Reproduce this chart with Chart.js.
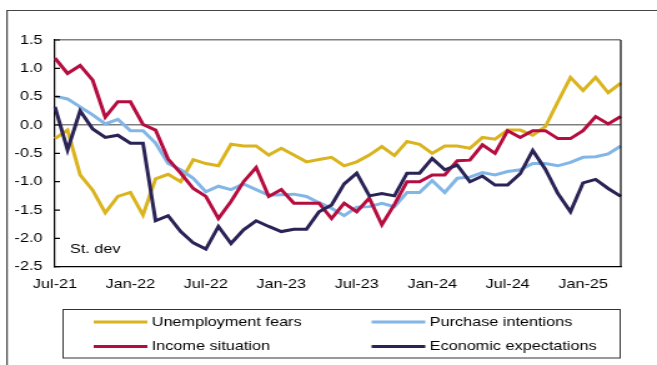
<!DOCTYPE html>
<html lang="en">

<head>
    <meta charset="utf-8" />
    <title>Consumer confidence components</title>
    <style>
        body {
            margin: 0;
            overflow: hidden;
            background: #fff;
        }

        /* the source picture is stretched sideways, so the chart is drawn narrow and scaled */
        .stretch {
            width: 526px;
            height: 365px;
            transform: scaleX(1.249);
            transform-origin: 0 0;
        }
    </style>
</head>

<body>
    <div class="stretch">
        <canvas id="mychart" width="526" height="365"></canvas>
    </div>
    <script src="https://cdn.jsdelivr.net/npm/chart.js@4.4.1/dist/chart.umd.min.js"></script>

    <script>
        // months (x axis)
        const months = [
            'Jul-21', 'Aug-21', 'Sep-21', 'Oct-21', 'Nov-21', 'Dec-21',
            'Jan-22', 'Feb-22', 'Mar-22', 'Apr-22', 'May-22', 'Jun-22',
            'Jul-22', 'Aug-22', 'Sep-22', 'Oct-22', 'Nov-22', 'Dec-22',
            'Jan-23', 'Feb-23', 'Mar-23', 'Apr-23', 'May-23', 'Jun-23',
            'Jul-23', 'Aug-23', 'Sep-23', 'Oct-23', 'Nov-23', 'Dec-23',
            'Jan-24', 'Feb-24', 'Mar-24', 'Apr-24', 'May-24', 'Jun-24',
            'Jul-24', 'Aug-24', 'Sep-24', 'Oct-24', 'Nov-24', 'Dec-24',
            'Jan-25', 'Feb-25', 'Mar-25', 'Apr-25'
        ];

        // labels shown on the x axis
        const shownLabels = ['Jul-21', 'Jan-22', 'Jul-22', 'Jan-23', 'Jul-23', 'Jan-24', 'Jul-24', 'Jan-25'];

        // series (standard deviations)
        const unemploymentFears = [
            -0.24, -0.09, -0.88, -1.15, -1.55, -1.26, -1.19, -1.59, -0.95, -0.87,
            -1.00, -0.61, -0.68, -0.72, -0.34, -0.37, -0.37, -0.53, -0.41, -0.53,
            -0.65, -0.61, -0.57, -0.72, -0.65, -0.53, -0.38, -0.54, -0.29, -0.34,
            -0.50, -0.37, -0.37, -0.41, -0.22, -0.25, -0.09, -0.09, -0.18, -0.03,
            0.41, 0.84, 0.61, 0.84, 0.57, 0.74
        ];
        const purchaseIntentions = [
            0.51, 0.46, 0.32, 0.18, 0.02, 0.10, -0.10, -0.10, -0.32, -0.68,
            -0.79, -0.94, -1.18, -1.08, -1.14, -1.04, -1.14, -1.24, -1.23, -1.22,
            -1.26, -1.37, -1.47, -1.60, -1.45, -1.44, -1.38, -1.44, -1.19, -1.19,
            -0.98, -1.19, -0.94, -0.92, -0.84, -0.88, -0.82, -0.79, -0.68, -0.68,
            -0.72, -0.66, -0.57, -0.56, -0.51, -0.37
        ];
        const incomeSituation = [
            1.18, 0.91, 1.05, 0.79, 0.14, 0.41, 0.41, 0.01, -0.09, -0.60,
            -0.85, -1.12, -1.26, -1.65, -1.35, -1.00, -0.75, -1.26, -1.14, -1.38,
            -1.38, -1.38, -1.65, -1.38, -1.53, -1.29, -1.76, -1.40, -1.00, -1.00,
            -0.88, -0.88, -0.63, -0.62, -0.35, -0.50, -0.10, -0.22, -0.10, -0.10,
            -0.24, -0.24, -0.10, 0.15, 0.02, 0.15
        ];
        const economicExpectations = [
            0.32, -0.44, 0.25, -0.07, -0.22, -0.18, -0.32, -0.32, -1.69, -1.60,
            -1.88, -2.08, -2.19, -1.79, -2.09, -1.85, -1.69, -1.79, -1.88, -1.84,
            -1.84, -1.53, -1.41, -1.04, -0.85, -1.25, -1.21, -1.25, -0.85, -0.85,
            -0.59, -0.79, -0.71, -1.00, -0.90, -1.06, -1.06, -0.86, -0.45, -0.78,
            -1.21, -1.53, -1.02, -0.96, -1.12, -1.26
        ];

        const FONT = "'Liberation Sans', Arial, sans-serif";

        // frame, right border, inner ticks, "St. dev" and the boxed legend
        const decorations = {
            id: 'decorations',
            beforeDraw(chart) {
                const ctx = chart.ctx;
                ctx.save();
                ctx.strokeStyle = '#444';
                ctx.lineWidth = 1.2;
                ctx.beginPath();
                ctx.moveTo(5.6, 365);
                ctx.lineTo(5.6, 10.5);
                ctx.lineTo(526, 10.5);
                ctx.stroke();
                ctx.restore();
            },
            afterDraw(chart) {
                const ctx = chart.ctx;
                const a = chart.chartArea;
                const y = chart.scales.y;
                ctx.save();
                ctx.strokeStyle = '#000';
                ctx.lineWidth = 1.2;
                ctx.beginPath();
                ctx.moveTo(a.right, a.top);
                ctx.lineTo(a.right, a.bottom);
                y.ticks.forEach(t => {
                    const py = y.getPixelForValue(t.value);
                    ctx.moveTo(a.left, py);
                    ctx.lineTo(a.left + 4, py);
                });
                ctx.stroke();

                ctx.fillStyle = '#000';
                ctx.font = '13px ' + FONT;
                ctx.textBaseline = 'middle';
                ctx.fillText('St. dev', a.left + 12, 249);

                // legend box
                ctx.strokeStyle = '#333';
                ctx.lineWidth = 1;
                ctx.strokeRect(50.5, 309.5, 446, 48.5);
                const cols = [75, 297.5];
                const rows = [322, 346.5];
                chart.data.datasets.forEach((ds, i) => {
                    const x = cols[i % 2];
                    const yy = rows[Math.floor(i / 2)];
                    ctx.strokeStyle = ds.borderColor;
                    ctx.lineWidth = 3;
                    ctx.beginPath();
                    ctx.moveTo(x, yy);
                    ctx.lineTo(x + 43, yy);
                    ctx.stroke();
                    ctx.fillText(ds.label, x + 46.5, yy);
                });
                ctx.restore();
            }
        };

        new Chart(document.getElementById('mychart'), {
            type: 'line',
            data: {
                labels: months,
                datasets: [{
                    label: 'Unemployment fears',
                    data: unemploymentFears,
                    borderColor: '#dab41e',
                    order: 3
                }, {
                    label: 'Purchase intentions',
                    data: purchaseIntentions,
                    borderColor: '#82b6e6',
                    order: 2
                }, {
                    label: 'Income situation',
                    data: incomeSituation,
                    borderColor: '#b50d40',
                    order: 1
                }, {
                    label: 'Economic expectations',
                    data: economicExpectations,
                    borderColor: '#2a2356',
                    order: 0
                }]
            },
            options: {
                responsive: false,
                animation: false,
                layout: {
                    padding: { top: 40, right: 29, left: 0, bottom: 0 }
                },
                elements: {
                    line: { borderWidth: 3, tension: 0, borderJoinStyle: 'miter', borderCapStyle: 'butt' },
                    point: { radius: 0 }
                },
                plugins: {
                    legend: { display: false },
                    tooltip: { enabled: false }
                },
                scales: {
                    x: {
                        offset: false,
                        grid: { display: false, drawTicks: false },
                        border: { display: true, color: '#000', width: 1.2 },
                        ticks: {
                            autoSkip: false,
                            maxRotation: 0,
                            padding: 10,
                            color: '#000',
                            font: { family: FONT, size: 13 },
                            callback: function (value) {
                                const lab = this.getLabelForValue(value);
                                return shownLabels.includes(lab) ? lab : '';
                            }
                        },
                        afterFit: scale => { scale.height = 98.3; }
                    },
                    y: {
                        min: -2.5,
                        max: 1.5,
                        ticks: {
                            stepSize: 0.5,
                            padding: 10,
                            color: '#000',
                            font: { family: FONT, size: 13 },
                            callback: v => v.toFixed(1)
                        },
                        grid: {
                            drawTicks: false,
                            lineWidth: 1.5,
                            color: c => (c.tick.value === 0 || c.tick.value === 1.5) ? '#808080' : 'rgba(0,0,0,0)'
                        },
                        border: { display: true, color: '#000', width: 1.2 },
                        afterFit: scale => { scale.width = 44; }
                    }
                }
            },
            plugins: [decorations]
        });
    </script>

</body>

</html>
